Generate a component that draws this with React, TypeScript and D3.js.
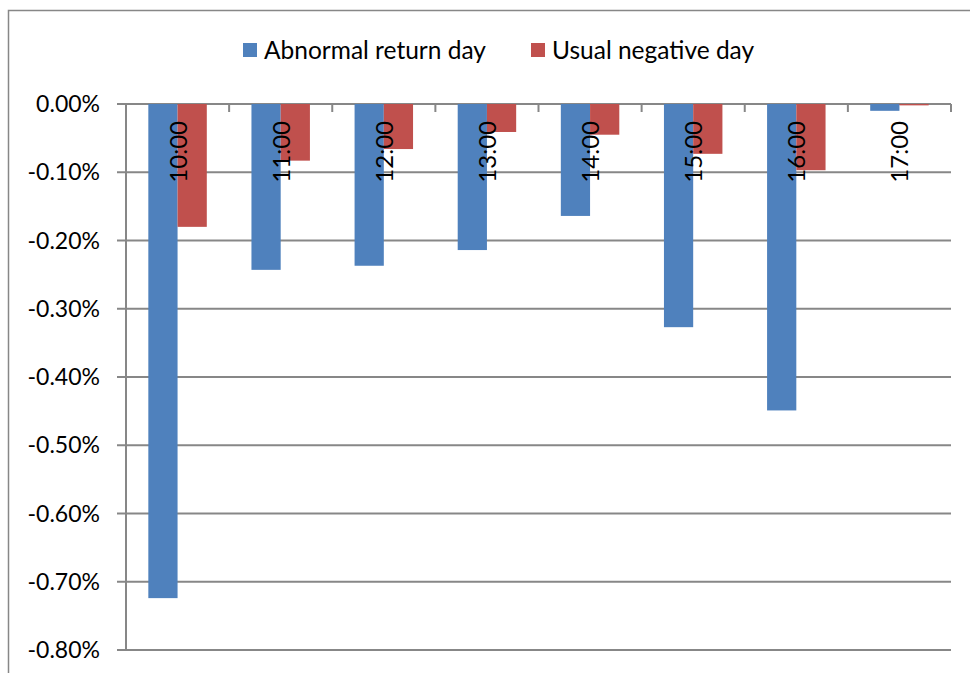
import React, { useEffect, useRef } from "react";
import * as d3 from "d3";

const hours = ["10:00", "11:00", "12:00", "13:00", "14:00", "15:00", "16:00", "17:00"];
const abnormalDay = [-0.724, -0.243, -0.237, -0.214, -0.164, -0.327, -0.449, -0.01];
const usualNegativeDay = [-0.18, -0.083, -0.066, -0.041, -0.045, -0.073, -0.097, -0.002];
const seriesNames = ["Abnormal return day", "Usual negative day"];
const seriesColors = ["#4F81BD", "#C0504D"];
const yTicks = [0, -0.1, -0.2, -0.3, -0.4, -0.5, -0.6, -0.7, -0.8];

const FONT = "Lato, 'Open Sans', sans-serif";

export default function App() {
  const svgRef = useRef<SVGSVGElement | null>(null);

  useEffect(() => {
    const width = 970;
    const height = 673;
    const plot = { left: 126, right: 951, top: 104, bottom: 650 };
    const grey = "#878787";

    const svg = d3.select(svgRef.current);
    svg.selectAll("*").remove();

    // outer chart frame (only left and top edges are visible)
    svg
      .append("rect")
      .attr("x", 8.5)
      .attr("y", 10.5)
      .attr("width", width + 20)
      .attr("height", height + 20)
      .attr("fill", "white")
      .attr("stroke", grey)
      .attr("stroke-width", 1.5);

    const x = d3
      .scaleBand<string>()
      .domain(hours)
      .range([plot.left, plot.right])
      .paddingInner(0.433)
      .paddingOuter(0.2165);

    const xSeries = d3
      .scaleBand<number>()
      .domain([0, 1])
      .range([0, x.bandwidth()]);

    const y = d3.scaleLinear().domain([-0.8, 0]).range([plot.bottom, plot.top]);

    // gridlines + y ticks
    const grid = svg.append("g");
    grid
      .selectAll("line.grid")
      .data(yTicks)
      .join("line")
      .attr("class", "grid")
      .attr("x1", plot.left - 9)
      .attr("x2", plot.right)
      .attr("y1", (d) => y(d))
      .attr("y2", (d) => y(d))
      .attr("stroke", grey)
      .attr("stroke-width", 2);

    grid
      .selectAll("text")
      .data(yTicks)
      .join("text")
      .attr("x", plot.left - 26)
      .attr("y", (d) => y(d))
      .attr("dy", "0.35em")
      .attr("text-anchor", "end")
      .attr("font-family", FONT)
      .attr("font-size", 23)
      .attr("fill", "#000")
      .text((d) => `${d === 0 ? "0.00" : d.toFixed(2)}%`);

    // y axis line
    svg
      .append("line")
      .attr("x1", plot.left)
      .attr("x2", plot.left)
      .attr("y1", plot.top)
      .attr("y2", plot.bottom)
      .attr("stroke", grey)
      .attr("stroke-width", 2);

    // category tick marks on the zero line
    const step = x.step();
    const boundaries = hours.map((_, i) => plot.left + step * (i + 1));
    svg
      .append("g")
      .selectAll("line")
      .data(boundaries)
      .join("line")
      .attr("x1", (d) => d)
      .attr("x2", (d) => d)
      .attr("y1", plot.top)
      .attr("y2", plot.top + 8)
      .attr("stroke", grey)
      .attr("stroke-width", 2);

    // bars
    const series = [abnormalDay, usualNegativeDay];
    series.forEach((values, s) => {
      svg
        .append("g")
        .selectAll("rect")
        .data(values)
        .join("rect")
        .attr("x", (_, i) => x(hours[i])! + xSeries(s)!)
        .attr("y", y(0))
        .attr("width", xSeries.bandwidth())
        .attr("height", (d) => y(d) - y(0))
        .attr("fill", seriesColors[s]);
    });

    // category labels, rotated
    svg
      .append("g")
      .selectAll("text")
      .data(hours)
      .join("text")
      .attr(
        "transform",
        (d) => `translate(${x(d)! + x.bandwidth() / 2 + 9},${plot.top + 17}) rotate(-90)`
      )
      .attr("text-anchor", "end")
      .attr("font-family", FONT)
      .attr("font-size", 24)
      .attr("fill", "#000")
      .text((d) => d);

    // legend
    const legendItems = [
      { x: 243, name: seriesNames[0], color: seriesColors[0] },
      { x: 531, name: seriesNames[1], color: seriesColors[1] },
    ];
    const legend = svg.append("g");
    legendItems.forEach((item) => {
      legend
        .append("rect")
        .attr("x", item.x)
        .attr("y", 43)
        .attr("width", 14)
        .attr("height", 14)
        .attr("fill", item.color);
      legend
        .append("text")
        .attr("x", item.x + 21)
        .attr("y", 50)
        .attr("dy", "0.35em")
        .attr("font-family", FONT)
        .attr("font-size", 24.5)
        .attr("fill", "#000")
        .text(item.name);
    });
  }, []);

  return (
    <div style={{ position: "absolute", left: 0, top: 0 }}>
      <svg ref={svgRef} width={970} height={673} style={{ display: "block" }} />
    </div>
  );
}
